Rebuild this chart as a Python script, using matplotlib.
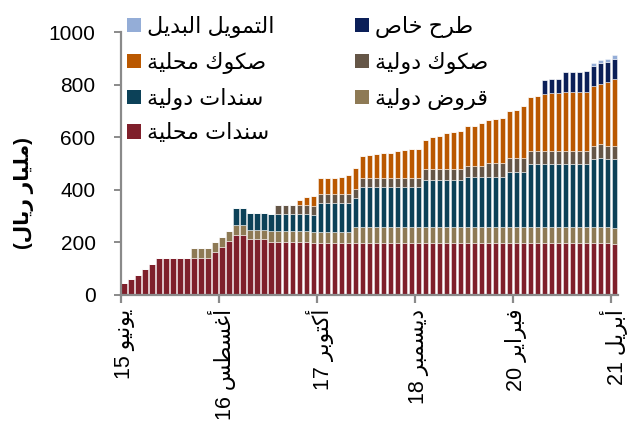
import re
import matplotlib
matplotlib.use("Agg")
import matplotlib.pyplot as plt
from matplotlib.patches import Patch
import numpy as np

# ---------------- data (billion riyals), monthly Jun-2015 .. Apr-2021 ----------------
local_bonds = [44, 61, 78, 99, 119, 140, 140, 140, 140, 140, 140, 140, 140, 162, 183, 206,
               228, 228, 213, 213, 213, 203, 203, 203, 203, 203, 203, 199, 199, 199, 199,
               199, 199, 199, 199, 199, 199, 199, 199, 199, 199, 199, 199, 199, 199, 199,
               199, 199, 199, 199, 199, 199, 199, 199, 199, 199, 199, 199, 199, 199, 199,
               199, 199, 199, 199, 199, 199, 199, 199, 199, 195]
intl_loans = [0, 0, 0, 0, 0, 0, 0, 0, 0, 0, 38, 38, 38, 39, 39, 39,
              37, 37, 36, 36, 36, 40, 40, 40, 40, 40, 40, 40, 40, 40, 40,
              40, 40, 59, 59, 59, 59, 59, 59, 59, 59, 59, 59, 59, 59, 59,
              59, 59, 59, 59, 59, 59, 59, 59, 59, 59, 59, 59, 59, 59, 59,
              59, 59, 59, 59, 59, 59, 59, 59, 59, 59]
intl_bonds = [0, 0, 0, 0, 0, 0, 0, 0, 0, 0, 0, 0, 0, 0, 0, 0,
              67, 67, 65, 65, 65, 64, 64, 64, 64, 64, 64, 64, 112, 112, 112,
              112, 112, 112, 154, 154, 154, 154, 154, 154, 154, 154, 154, 180, 180, 180,
              180, 180, 180, 192, 192, 192, 192, 192, 192, 210, 210, 210, 239, 239, 239,
              239, 239, 239, 239, 239, 239, 258, 265, 261, 265]
intl_sukuk = [0, 0, 0, 0, 0, 0, 0, 0, 0, 0, 0, 0, 0, 0, 0, 0,
              0, 0, 0, 0, 0, 0, 35, 35, 35, 35, 35, 35, 35, 35, 35,
              35, 35, 35, 35, 35, 35, 35, 35, 35, 35, 35, 35, 42, 42, 42,
              42, 42, 42, 41, 41, 41, 52, 52, 52, 53, 53, 53, 51, 51, 51,
              51, 51, 51, 51, 51, 51, 50, 51, 50, 50]
local_sukuk = [0, 0, 0, 0, 0, 0, 0, 0, 0, 0, 0, 0, 0, 0, 0, 0,
               0, 0, 0, 0, 0, 0, 0, 0, 0, 18, 30, 38, 58, 58, 58,
               64, 71, 78, 83, 86, 90, 94, 94, 101, 106, 109, 110, 110, 120, 127,
               137, 141, 143, 151, 154, 163, 166, 168, 172, 179, 184, 200, 206, 211, 218,
               222, 222, 224, 224, 224, 224, 228, 231, 241, 252]
private_placement = [0, 0, 0, 0, 0, 0, 0, 0, 0, 0, 0, 0, 0, 0, 0, 0,
                     0, 0, 0, 0, 0, 0, 0, 0, 0, 0, 0, 0, 0, 0, 0,
                     0, 0, 0, 0, 0, 0, 0, 0, 0, 0, 0, 0, 0, 0, 0,
                     0, 0, 0, 0, 0, 0, 0, 0, 0, 0, 0, 0, 0, 0, 52,
                     51, 51, 76, 76, 76, 81, 79, 80, 77, 79]
alt_finance = [0, 0, 0, 0, 0, 0, 0, 0, 0, 0, 0, 0, 0, 0, 0, 0,
               0, 0, 0, 0, 0, 0, 0, 0, 0, 0, 0, 0, 0, 0, 0,
               0, 0, 0, 0, 0, 0, 0, 0, 0, 0, 0, 0, 0, 0, 0,
               0, 0, 0, 0, 0, 0, 0, 0, 0, 0, 0, 0, 0, 0, 0,
               0, 0, 0, 0, 0, 0, 11, 10, 11, 12]

series_names = ["سندات محلية", "قروض دولية", "سندات دولية", "صكوك دولية",
                "صكوك محلية", "طرح خاص", "التمويل البديل"]
tick_index = [0, 14, 28, 42, 56, 70]
tick_labels = ["يونيو 15", "أغسطس 16", "أكتوبر 17", "ديسمبر 18", "فبراير 20", "أبريل 21"]
y_ticks = [0, 200, 400, 600, 800, 1000]
y_title = "(مليار ريال)"

colors = ["#7F1F2B", "#8E7A55", "#0C4158", "#655647", "#BA5800", "#0B1F58", "#94ADD7"]

# ---------------- minimal Arabic shaping + visual reordering ----------------
FORMS = {
    '\u0621': ('\uFE80', None, None, None),
    '\u0622': ('\uFE81', '\uFE82', None, None),
    '\u0623': ('\uFE83', '\uFE84', None, None),
    '\u0625': ('\uFE87', '\uFE88', None, None),
    '\u0627': ('\uFE8D', '\uFE8E', None, None),
    '\u0628': ('\uFE8F', '\uFE90', '\uFE91', '\uFE92'),
    '\u0629': ('\uFE93', '\uFE94', None, None),
    '\u062A': ('\uFE95', '\uFE96', '\uFE97', '\uFE98'),
    '\u062B': ('\uFE99', '\uFE9A', '\uFE9B', '\uFE9C'),
    '\u062C': ('\uFE9D', '\uFE9E', '\uFE9F', '\uFEA0'),
    '\u062D': ('\uFEA1', '\uFEA2', '\uFEA3', '\uFEA4'),
    '\u062E': ('\uFEA5', '\uFEA6', '\uFEA7', '\uFEA8'),
    '\u062F': ('\uFEA9', '\uFEAA', None, None),
    '\u0630': ('\uFEAB', '\uFEAC', None, None),
    '\u0631': ('\uFEAD', '\uFEAE', None, None),
    '\u0632': ('\uFEAF', '\uFEB0', None, None),
    '\u0633': ('\uFEB1', '\uFEB2', '\uFEB3', '\uFEB4'),
    '\u0634': ('\uFEB5', '\uFEB6', '\uFEB7', '\uFEB8'),
    '\u0635': ('\uFEB9', '\uFEBA', '\uFEBB', '\uFEBC'),
    '\u0636': ('\uFEBD', '\uFEBE', '\uFEBF', '\uFEC0'),
    '\u0637': ('\uFEC1', '\uFEC2', '\uFEC3', '\uFEC4'),
    '\u0638': ('\uFEC5', '\uFEC6', '\uFEC7', '\uFEC8'),
    '\u0639': ('\uFEC9', '\uFECA', '\uFECB', '\uFECC'),
    '\u063A': ('\uFECD', '\uFECE', '\uFECF', '\uFED0'),
    '\u0641': ('\uFED1', '\uFED2', '\uFED3', '\uFED4'),
    '\u0642': ('\uFED5', '\uFED6', '\uFED7', '\uFED8'),
    '\u0643': ('\uFED9', '\uFEDA', '\uFEDB', '\uFEDC'),
    '\u0644': ('\uFEDD', '\uFEDE', '\uFEDF', '\uFEE0'),
    '\u0645': ('\uFEE1', '\uFEE2', '\uFEE3', '\uFEE4'),
    '\u0646': ('\uFEE5', '\uFEE6', '\uFEE7', '\uFEE8'),
    '\u0647': ('\uFEE9', '\uFEEA', '\uFEEB', '\uFEEC'),
    '\u0648': ('\uFEED', '\uFEEE', None, None),
    '\u0649': ('\uFEEF', '\uFEF0', None, None),
    '\u064A': ('\uFEF1', '\uFEF2', '\uFEF3', '\uFEF4'),
}
LAM_ALEF = {'\u0627': ('\uFEFB', '\uFEFC'), '\u0623': ('\uFEF7', '\uFEF8'),
            '\u0625': ('\uFEF9', '\uFEFA'), '\u0622': ('\uFEF5', '\uFEF6')}


def dual(c):
    return c in FORMS and FORMS[c][2] is not None


def shape(text):
    chars = list(text)
    out = []
    i = 0
    n = len(chars)
    while i < n:
        c = chars[i]
        if c not in FORMS:
            out.append(c)
            i += 1
            continue
        prev = chars[i - 1] if i > 0 else None
        jp = prev is not None and dual(prev)
        if c == '\u0644' and i + 1 < n and chars[i + 1] in LAM_ALEF:
            out.append(LAM_ALEF[chars[i + 1]][1 if jp else 0])
            i += 2
            continue
        nxt = chars[i + 1] if i + 1 < n else None
        jn = dual(c) and nxt is not None and nxt in FORMS
        iso, fin, ini, med = FORMS[c]
        if jp and jn:
            g = med
        elif jp:
            g = fin
        elif jn:
            g = ini
        else:
            g = iso
        out.append(g)
        i += 1
    return ''.join(out)


def visual(text):
    s = shape(text)[::-1]
    s = re.sub(r'[0-9.,]+', lambda m: m.group(0)[::-1], s)
    s = s.translate(str.maketrans({'(': ')', ')': '('}))
    return s


FAM = ['Liberation Sans', 'DejaVu Sans']
plt.rcParams['font.family'] = FAM

# ---------------- figure ----------------
W, H = 635, 432
fig = plt.figure(figsize=(W / 100, H / 100), dpi=100)
ax = fig.add_axes([120.5 / W, 1 - 295 / H, (618 - 120.5) / W, (295 - 32.3) / H])

x = np.arange(len(local_bonds))
data = [local_bonds, intl_loans, intl_bonds, intl_sukuk, local_sukuk,
        private_placement, alt_finance]
bottom = np.zeros(len(x))
handles = []
for vals, col, name in zip(data, colors, series_names):
    v = np.array(vals, dtype=float)
    ax.bar(x, v, bottom=bottom, width=0.76, color=col,
           edgecolor=(1, 1, 1, 0.55), linewidth=0.6)
    bottom += v
    handles.append(Patch(facecolor=col, edgecolor='none', label=visual(name)))

ax.set_xlim(-0.5, len(x) - 0.5)
ax.set_ylim(0, 1000)

for s in ['top', 'right']:
    ax.spines[s].set_visible(False)
for s in ['left', 'bottom']:
    ax.spines[s].set_color('#8A8A8A')
    ax.spines[s].set_linewidth(1.6)

ax.set_yticks(y_ticks)
ax.set_yticklabels([str(v) for v in y_ticks], fontsize=15)
ax.tick_params(axis='y', direction='out', length=5, width=1.4, color='#8A8A8A', pad=13)

# boundary ticks (major) and labels at category centres (minor)
ax.set_xticks([i - 0.5 for i in tick_index])
ax.set_xticklabels([])
ax.tick_params(axis='x', which='major', direction='out', length=6, width=1.6, color='#8A8A8A')
ax.set_xticks(tick_index, minor=True)
ax.set_xticklabels([visual(t) for t in tick_labels], minor=True, rotation=90,
                   fontsize=15.5, va='top', ha='center')
ax.tick_params(axis='x', which='minor', length=0, pad=10)

fig.text(24 / W, 1 - 193 / H, visual(y_title), rotation=90, fontsize=14.5,
         fontweight='bold', ha='center', va='center')

order = [6, 4, 2, 0, 5, 3, 1]
leg = fig.legend([handles[i] for i in order], [handles[i].get_label() for i in order],
                 loc='upper left', bbox_to_anchor=(127 / W, 1 - 16 / H), ncol=2,
                 frameon=False, fontsize=16, handlelength=0.62, handleheight=0.62,
                 handletextpad=0.3, columnspacing=3.6, labelspacing=0.62,
                 borderpad=0, borderaxespad=0)

fig.savefig('out.png', dpi=100)
